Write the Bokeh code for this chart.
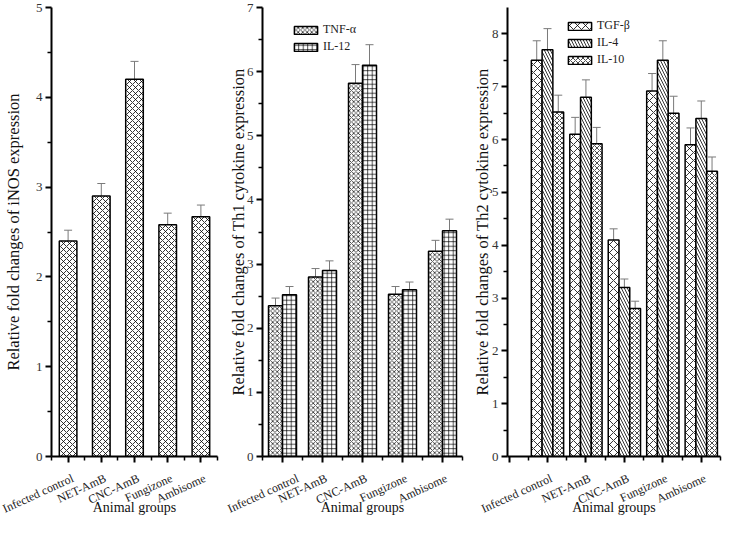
import math
from bokeh.plotting import figure
from bokeh.layouts import row
from bokeh.models import (ColumnDataSource, FixedTicker, Whisker, TeeHead, Legend,
                          LegendItem, LinearAxis)
from bokeh.embed import file_html
from bokeh.resources import INLINE

# ---------------- data ----------------
groups = ["Infected control", "NET-AmB", "CNC-AmB", "Fungizone", "Ambisome"]
group_pos = [1, 2, 3, 4, 5]

inos = [2.40, 2.90, 4.20, 2.58, 2.67]
inos_err = [0.12, 0.14, 0.20, 0.13, 0.13]

tnf = [2.35, 2.80, 5.82, 2.53, 3.20]
tnf_err = [0.12, 0.13, 0.29, 0.12, 0.17]
il12 = [2.52, 2.90, 6.10, 2.60, 3.52]
il12_err = [0.13, 0.15, 0.32, 0.12, 0.18]

tgf = [7.50, 6.10, 4.10, 6.92, 5.90]
tgf_err = [0.37, 0.32, 0.21, 0.33, 0.32]
il4 = [7.70, 6.80, 3.20, 7.50, 6.40]
il4_err = [0.40, 0.33, 0.16, 0.37, 0.33]
il10 = [6.52, 5.92, 2.80, 6.50, 5.40]
il10_err = [0.32, 0.31, 0.14, 0.32, 0.27]

y1_ticks = [0, 1, 2, 3, 4, 5]
y2_ticks = [0, 1, 2, 3, 4, 5, 6, 7]
y3_ticks = [0, 1, 2, 3, 4, 5, 6, 7, 8]

# ---------------- style / layout ----------------
FONT = "Liberation Serif"
ERR_COLOR = "#7a7a7a"
FRAME_H = 449
TOP = 7
BOTTOM = 62
XLAB_SIZE = 12
XLAB_ANGLE = 0.43
XLAB_SHIFT_PX = 4   # rotated names end slightly right of their tick


def make_fig(width, left, right, ymax, yticks, ylabel, ylab_standoff, xstart, xmajor):
    p = figure(width=width, height=TOP + FRAME_H + BOTTOM,
               x_range=(xstart, 5.5), y_range=(0, ymax),
               output_backend="svg", toolbar_location=None,
               min_border_left=left, min_border_right=right,
               min_border_top=TOP, min_border_bottom=BOTTOM)
    p.outline_line_color = None
    p.xgrid.visible = False
    p.ygrid.visible = False
    p.background_fill_color = "white"
    p.border_fill_color = "white"

    # y axis
    ya = p.yaxis[0]
    ya.ticker = FixedTicker(ticks=yticks, minor_ticks=[t + 0.5 for t in yticks[:-1]])
    ya.axis_label = ylabel
    ya.axis_label_standoff = ylab_standoff
    ya.axis_label_text_font = FONT
    ya.axis_label_text_font_size = "16.5px"
    ya.axis_label_text_font_style = "normal"
    ya.axis_label_text_color = "#111111"
    ya.major_label_text_font = FONT
    ya.major_label_text_font_size = "13px"
    ya.major_label_text_color = "#333333"
    ya.major_label_standoff = 3
    ya.axis_line_width = 2
    ya.major_tick_line_width = 2
    ya.minor_tick_line_width = 1.5
    ya.major_tick_out = 6
    ya.major_tick_in = 0
    ya.minor_tick_out = 4
    ya.minor_tick_in = 0

    # x axis: tick marks only
    xa = p.xaxis[0]
    xa.ticker = FixedTicker(ticks=xmajor, minor_ticks=[0.5, 1.5, 2.5, 3.5, 4.5, 5.5])
    xa.major_label_overrides = {t: "" for t in xmajor}
    xa.major_label_text_font_size = "1px"
    xa.major_label_standoff = 0
    xa.axis_line_width = 2
    xa.major_tick_line_width = 2
    xa.minor_tick_line_width = 1.5
    xa.major_tick_out = 6
    xa.major_tick_in = 0
    xa.minor_tick_out = 4
    xa.minor_tick_in = 0

    # second x axis: rotated category names + title
    frame_w = width - left - right
    px_per_unit = frame_w / (5.5 - xstart)
    lab_pos = []
    overrides = {}
    for pos, name in zip(group_pos, groups):
        lp = round(pos + XLAB_SHIFT_PX / px_per_unit, 4)
        lab_pos.append(lp)
        overrides[lp] = name
    xb = LinearAxis(ticker=FixedTicker(ticks=lab_pos, minor_ticks=[]))
    xb.major_label_overrides = overrides
    xb.major_label_orientation = XLAB_ANGLE
    xb.major_label_text_font = FONT
    xb.major_label_text_font_size = f"{XLAB_SIZE}px"
    xb.major_label_text_color = "#222222"
    xb.major_label_standoff = 15
    xb.axis_line_color = None
    xb.major_tick_line_color = None
    xb.minor_tick_line_color = None
    xb.major_tick_out = 0
    xb.major_tick_in = 0
    xb.minor_tick_out = 0
    xb.minor_tick_in = 0
    xb.axis_label = "Animal groups"
    xb.axis_label_text_font = FONT
    xb.axis_label_text_font_size = "14px"
    xb.axis_label_text_font_style = "normal"
    xb.axis_label_text_color = "#111111"
    xb.axis_label_standoff = -25
    p.add_layout(xb, "below")
    return p


def add_bars(p, offset, width, vals, errs, pattern, scale, weight=0.8):
    xs = [g + offset for g in group_pos]
    src = ColumnDataSource(dict(x=xs, top=vals,
                                upper=[v + e for v, e in zip(vals, errs)],
                                lower=[v - e for v, e in zip(vals, errs)]))
    r = p.vbar(x="x", top="top", width=width, bottom=0, source=src,
               fill_color="white", line_color="black", line_width=1.5,
               hatch_pattern=pattern, hatch_scale=scale, hatch_color="black",
               hatch_weight=weight)
    w = Whisker(base="x", upper="upper", lower="lower", source=src,
                dimension="height", line_color=ERR_COLOR, line_width=1,
                upper_head=TeeHead(size=8, line_color=ERR_COLOR, line_width=1),
                lower_head=None)
    p.add_layout(w)
    return r


def add_legend(p, items, loc):
    lg = Legend(items=items, location=loc, orientation="vertical",
                glyph_width=29, glyph_height=10, label_standoff=3,
                label_text_font=FONT, label_text_font_size="12px",
                label_text_color="#222222", label_height=10,
                spacing=2, padding=0, margin=0,
                background_fill_alpha=0, border_line_color=None)
    p.add_layout(lg)


# ---------------- panel 1: iNOS ----------------
p1 = make_fig(225, 51, 8, 5, y1_ticks,
              "Relative fold changes of iNOS expression", 10, 0.5, group_pos)
add_bars(p1, 0.0, 0.53, inos, inos_err, "diagonal_cross", 6)

# ---------------- panel 2: Th1 ----------------
p2 = make_fig(244, 31, 7, 7, y2_ticks,
              "Relative fold changes of Th1 cytokine expression", -4, 0.5, group_pos)
r_tnf = add_bars(p2, -0.175, 0.35, tnf, tnf_err, "diagonal_cross", 4.5, 0.7)
r_il12 = add_bars(p2, 0.175, 0.35, il12, il12_err, "cross", 4.5, 0.7)
add_legend(p2, [LegendItem(label="TNF-α", renderers=[r_tnf]),
                LegendItem(label="IL-12", renderers=[r_il12])], (29, 402))

# ---------------- panel 3: Th2 ----------------
p3 = make_fig(253, 32, 2, 8.5, y3_ticks,
              "Relative fold changes of Th2 cytokine expression", -3, -0.04, [0] + group_pos)
r_tgf = add_bars(p3, -0.28, 0.28, tgf, tgf_err, "diagonal_cross", 8)
r_il4 = add_bars(p3, 0.0, 0.28, il4, il4_err, "left_diagonal_line", 6)
r_il10 = add_bars(p3, 0.28, 0.28, il10, il10_err, "diagonal_cross", 5, 0.7)
add_legend(p3, [LegendItem(label="TGF-β", renderers=[r_tgf]),
                LegendItem(label="IL-4", renderers=[r_il4]),
                LegendItem(label="IL-10", renderers=[r_il10])], (58, 389))

layout = row(p1, p2, p3)
open("out.html", "w").write(file_html(layout, INLINE))
